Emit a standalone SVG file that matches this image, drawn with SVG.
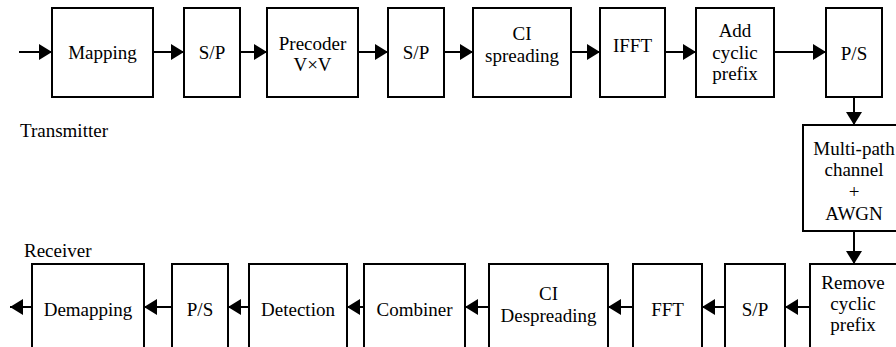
<svg xmlns="http://www.w3.org/2000/svg" width="896" height="347" viewBox="0 0 896 347">
  <style>
    .box { fill: #ffffff; stroke: #000000; stroke-width: 2; }
    .lbl { font-family: "Liberation Serif", "Times New Roman", serif; font-size: 19px; fill: #000000; text-anchor: middle; }
    .cap { font-family: "Liberation Serif", "Times New Roman", serif; font-size: 19px; fill: #000000; }
    .wire { fill: none; stroke: #000000; stroke-width: 2; marker-end: url(#head); }
  </style>
  <defs>
    <marker id="head" viewBox="0 0 13 16" refX="13" refY="8" markerWidth="13" markerHeight="16" markerUnits="userSpaceOnUse" orient="auto">
      <path d="M0,0 L13,8 L0,16 z" fill="#000000"/>
    </marker>
  </defs>
  <rect width="896" height="347" fill="#ffffff"/>

  <text class="cap" x="20" y="137">Transmitter</text>
  <text class="cap" x="24" y="257">Receiver</text>

  <!-- transmitter chain -->
  <g id="mapping"><rect class="box" x="52" y="8" width="101" height="89"/><text class="lbl" x="102.5" y="59">Mapping</text></g>
  <g id="sp1"><rect class="box" x="184" y="8" width="56" height="89"/><text class="lbl" x="212" y="59">S/P</text></g>
  <g id="precoder"><rect class="box" x="267" y="8" width="91" height="89"/><text class="lbl" x="312.5" y="50">Precoder</text><text class="lbl" x="312.5" y="71">V×V</text></g>
  <g id="sp2"><rect class="box" x="388" y="8" width="56" height="89"/><text class="lbl" x="416" y="59">S/P</text></g>
  <g id="ci-spreading"><rect class="box" x="473" y="8" width="98" height="89"/><text class="lbl" x="522" y="40">CI</text><text class="lbl" x="522" y="62">spreading</text></g>
  <g id="ifft"><rect class="box" x="600" y="8" width="65" height="89"/><text class="lbl" x="632.5" y="52">IFFT</text></g>
  <g id="add-cp"><rect class="box" x="696" y="8" width="78" height="89"/><text class="lbl" x="735" y="37">Add</text><text class="lbl" x="735" y="59">cyclic</text><text class="lbl" x="735" y="80">prefix</text></g>
  <g id="ps1"><rect class="box" x="826" y="8" width="56" height="89"/><text class="lbl" x="854" y="60">P/S</text></g>

  <!-- channel -->
  <g id="channel"><rect class="box" x="803" y="125" width="102" height="106"/><text class="lbl" x="854" y="155">Multi-path</text><text class="lbl" x="854" y="176">channel</text><text class="lbl" x="854" y="198">+</text><text class="lbl" x="854" y="220">AWGN</text></g>

  <!-- receiver chain -->
  <g id="remove-cp"><rect class="box" x="810" y="264" width="95" height="100"/><text class="lbl" x="853" y="289">Remove</text><text class="lbl" x="853" y="310">cyclic</text><text class="lbl" x="853" y="331">prefix</text></g>
  <g id="sp3"><rect class="box" x="725" y="264" width="60" height="100"/><text class="lbl" x="755" y="316">S/P</text></g>
  <g id="fft"><rect class="box" x="633" y="264" width="69" height="100"/><text class="lbl" x="667.5" y="316">FFT</text></g>
  <g id="ci-despreading"><rect class="box" x="489" y="264" width="119" height="100"/><text class="lbl" x="548.5" y="300">CI</text><text class="lbl" x="548.5" y="322">Despreading</text></g>
  <g id="combiner"><rect class="box" x="364" y="264" width="101" height="100"/><text class="lbl" x="414.5" y="316">Combiner</text></g>
  <g id="detection"><rect class="box" x="249" y="264" width="98" height="100"/><text class="lbl" x="298" y="316">Detection</text></g>
  <g id="ps2"><rect class="box" x="172" y="264" width="56" height="100"/><text class="lbl" x="200" y="316">P/S</text></g>
  <g id="demapping"><rect class="box" x="32" y="264" width="112" height="100"/><text class="lbl" x="88" y="316">Demapping</text></g>

  <!-- connectors -->
  <g id="connectors">
    <line class="wire" x1="19" y1="52" x2="52" y2="52"/>
    <line class="wire" x1="153" y1="52" x2="184" y2="52"/>
    <line class="wire" x1="240" y1="52" x2="267" y2="52"/>
    <line class="wire" x1="358" y1="52" x2="388" y2="52"/>
    <line class="wire" x1="444" y1="52" x2="473" y2="52"/>
    <line class="wire" x1="571" y1="52" x2="600" y2="52"/>
    <line class="wire" x1="665" y1="52" x2="696" y2="52"/>
    <line class="wire" x1="774" y1="52" x2="826" y2="52"/>
    <line class="wire" x1="854" y1="97" x2="854" y2="125"/>
    <line class="wire" x1="854" y1="231" x2="854" y2="264"/>
    <line class="wire" x1="810" y1="307" x2="785" y2="307"/>
    <line class="wire" x1="725" y1="307" x2="702" y2="307"/>
    <line class="wire" x1="633" y1="307" x2="608" y2="307"/>
    <line class="wire" x1="489" y1="307" x2="465" y2="307"/>
    <line class="wire" x1="364" y1="307" x2="347" y2="307"/>
    <line class="wire" x1="249" y1="307" x2="228" y2="307"/>
    <line class="wire" x1="172" y1="307" x2="144" y2="307"/>
    <line class="wire" x1="32" y1="307" x2="10" y2="307"/>
  </g>
</svg>
